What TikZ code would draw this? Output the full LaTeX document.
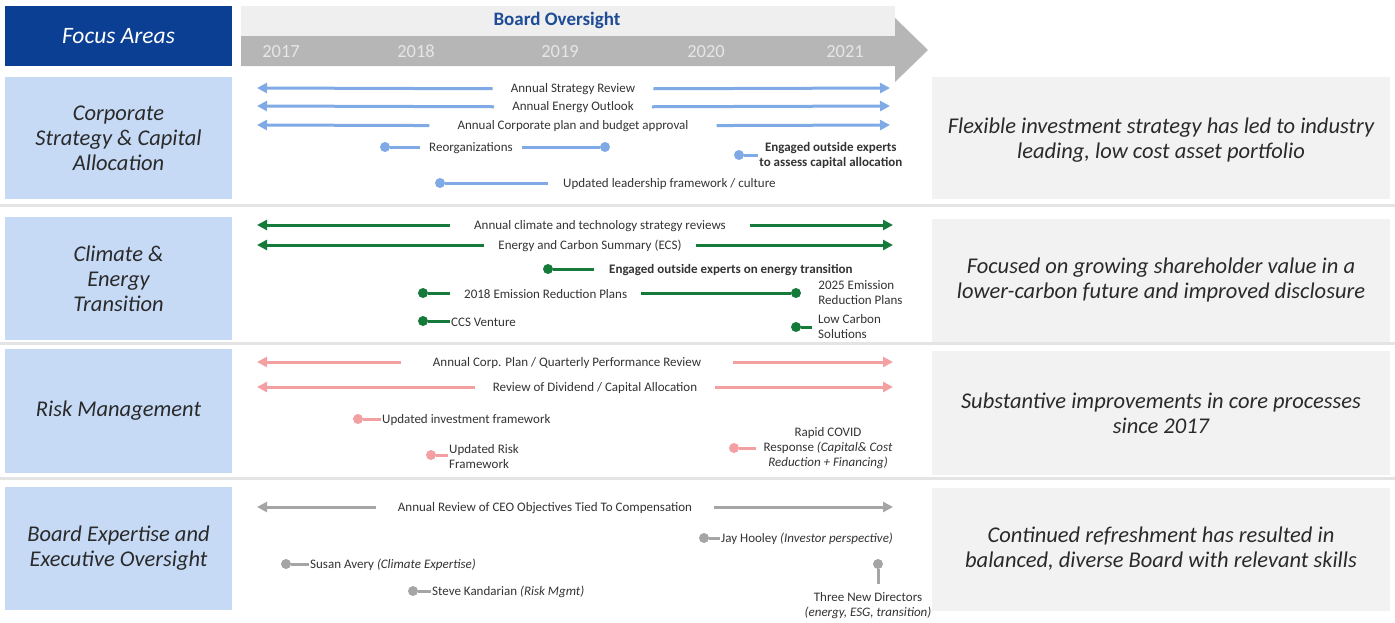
\documentclass[tikz,border=0pt]{standalone}
\usepackage{fontspec}
\setmainfont{Carlito}
\usetikzlibrary{arrows.meta,positioning}
\definecolor{headblue}{HTML}{0B3F93}
\definecolor{boardblue}{HTML}{1F4C97}
\definecolor{bandlight}{HTML}{EFEFEF}
\definecolor{bandgray}{HTML}{B6B6B6}
\definecolor{yeargray}{HTML}{E6E6E6}
\definecolor{areablue}{HTML}{C6DAF6}
\definecolor{resultgray}{HTML}{F2F2F2}
\definecolor{sepgray}{HTML}{E4E4E4}
\definecolor{textdark}{HTML}{2A2A2A}
\definecolor{itemgray}{HTML}{333333}
\definecolor{strategyblue}{HTML}{80AAE6}
\definecolor{climategreen}{HTML}{167A3A}
\definecolor{riskpink}{HTML}{F3A0A2}
\definecolor{boardgray}{HTML}{A5A5A5}
\tikzset{%
  >={Triangle[length=10pt,width=10pt]},
  % Specifications for style of nodes:
        bigtext/.style = {font=\fontsize{22.5}{25}\selectfont\itshape,
                          text=textdark, align=center},
        areabox/.style = {rectangle, bigtext, fill=areablue,
                          minimum width=227pt, minimum height=122pt},
      resultbox/.style = {rectangle, bigtext, fill=resultgray,
                          minimum width=458pt, minimum height=122pt},
      yearlabel/.style = {font=\fontsize{18.5}{20}\selectfont, text=yeargray},
       itemtext/.style = {font=\fontsize{13}{15}\selectfont, text=itemgray,
                          inner ysep=0pt, inner xsep=1pt},
       itembold/.style = {itemtext, font=\fontsize{13}{15}\selectfont\bfseries},
       spantext/.style = {itemtext, inner xsep=18pt},
          tldot/.style = {circle, inner sep=0pt, minimum size=10pt},
         tlline/.style = {line width=3pt},
  % one colour per focus area
       blueline/.style = {tlline, draw=strategyblue},
      bluearrow/.style = {blueline, ->, strategyblue},
        bluedot/.style = {tldot, fill=strategyblue},
      greenline/.style = {tlline, draw=climategreen},
     greenarrow/.style = {greenline, ->, climategreen},
       greendot/.style = {tldot, fill=climategreen},
       pinkline/.style = {tlline, draw=riskpink},
      pinkarrow/.style = {pinkline, ->, riskpink},
        pinkdot/.style = {tldot, fill=riskpink},
       grayline/.style = {tlline, draw=boardgray},
      grayarrow/.style = {grayline, ->, boardgray},
        graydot/.style = {tldot, fill=boardgray}
}
\begin{document}
\begin{tikzpicture}[x=1pt, y=-1pt]
  \useasboundingbox (0,0) rectangle (1395,622);
  \fill[white] (0,0) rectangle (1395,622);
  % header
  \node (focus) [rectangle, fill=headblue, minimum width=227pt, minimum height=60pt,
                 font=\fontsize{23.5}{26}\selectfont\itshape, text=white] at (118.5,36) {Focus Areas};
  \fill[bandlight] (241,6) rectangle (895,36);
  \fill[bandgray] (241,36) -- (895,36) -- (895,18) -- (928,50) -- (895,82) -- (895,66) -- (241,66) -- cycle;
  \node (board) [font=\fontsize{19}{21}\selectfont\bfseries, text=boardblue] at (557,20) {Board Oversight};
  \foreach \yr/\xpos in {2017/281, 2018/416, 2019/560, 2020/706, 2021/845}
    \node (y\yr) [yearlabel] at (\xpos,51.5) {\yr};
  % separators
  \foreach \sy in {205,343,478}
    \draw[sepgray, line width=3pt] (0,\sy) -- (1395,\sy);

  % Corporate Strategy & Capital Allocation
  \node (csca)    [areabox] at (118.5,138) {Corporate\\Strategy \& Capital\\Allocation};
  \node (cscares) [resultbox, text depth=0pt] at (1161,138) {Flexible investment strategy has led to industry\\leading, low cost asset portfolio};
  \node (asr) [spantext] at (573,89) {Annual Strategy Review};
  \coordinate (asrL) at (257,88);
  \coordinate (asrR) at (890,88);
  \draw[bluearrow] (asr) -- (asrL);
  \draw[bluearrow] (asr) -- (asrR);
  \node (aeo) [spantext] at (573,107) {Annual Energy Outlook};
  \coordinate (aeoL) at (257,106);
  \coordinate (aeoR) at (890,106);
  \draw[bluearrow] (aeo) -- (aeoL);
  \draw[bluearrow] (aeo) -- (aeoR);
  \node (acp) [spantext, inner xsep=28pt] at (573,126) {Annual Corporate plan and budget approval};
  \coordinate (acpL) at (257,125);
  \coordinate (acpR) at (890,125);
  \draw[bluearrow] (acp) -- (acpL);
  \draw[bluearrow] (acp) -- (acpR);
  \node (reoA) [bluedot] at (385,147) {};
  \node (reoB) [bluedot] at (605,147) {};
  \node (reo) [itemtext, anchor=west, inner xsep=9pt] at (420,148) {Reorganizations};
  \draw[blueline] (reoA) -- (reoA -| reo.west);
  \draw[blueline] (reoB -| reo.east) -- (reoB);
  \node (eoeA) [bluedot] at (739,155) {};
  \node (eoe) [itembold, align=center, right=14pt of eoeA] {Engaged outside experts\\to assess capital allocation};
  \draw[blueline] (eoeA) -- (eoe);
  \node (ulfA) [bluedot] at (440,183) {};
  \node (ulf) [itemtext, anchor=west, inner xsep=15pt] at (548,184) {Updated leadership framework / culture};
  \draw[blueline] (ulfA) -- (ulfA -| ulf.west);

  % Climate & Energy Transition
  \node (cet)    [areabox, minimum height=123pt] at (118.5,278.5) {Climate \&\\Energy\\Transition};
  \node (cetres) [resultbox, minimum height=123pt] at (1161,280) {Focused on growing shareholder value in a\\lower-carbon future and improved disclosure};
  \node (acts) [spantext, inner xsep=24pt] at (600,226) {Annual climate and technology strategy reviews};
  \coordinate (actsL) at (257,225);
  \coordinate (actsR) at (893,225);
  \draw[greenarrow] (acts.west |- actsL) -- (actsL);
  \draw[greenarrow] (acts.east |- actsR) -- (actsR);
  \node (ecs) [spantext, inner xsep=14pt] at (590,246) {Energy and Carbon Summary (ECS)};
  \coordinate (ecsL) at (257,245);
  \coordinate (ecsR) at (893,245);
  \draw[greenarrow] (ecs.west |- ecsL) -- (ecsL);
  \draw[greenarrow] (ecs.east |- ecsR) -- (ecsR);
  \node (eetA) [greendot] at (548,269) {};
  \node (eet) [itembold, anchor=west, inner xsep=15pt] at (594,270) {Engaged outside experts on energy transition};
  \draw[greenline] (eetA) -- (eetA -| eet.west);
  \node (erpA) [greendot] at (423,293) {};
  \node (erpB) [greendot] at (796,293) {};
  \node (erp) [itemtext, anchor=west, inner xsep=14pt] at (450,294) {2018 Emission Reduction Plans};
  \draw[greenline] (erpA) -- (erpA -| erp.west);
  \draw[greenline] (erpB -| erp.east) -- (erpB);
  \node (erpn) [itemtext, align=left, right=16pt of erpB, yshift=0pt] {2025 Emission\\Reduction Plans};
  \node (ccsA) [greendot] at (423,321) {};
  \node (ccs) [itemtext, anchor=west] at (450,322) {CCS Venture};
  \draw[greenline] (ccsA) -- (ccsA -| ccs.west);
  \node (lcsA) [greendot] at (796,327) {};
  \node (lcs) [itemtext, anchor=west, align=left, inner xsep=6pt] at (812,327) {Low Carbon\\Solutions};
  \draw[greenline] (lcsA) -- (lcsA -| lcs.west);

  % Risk Management
  \node (rm)    [areabox, minimum height=124pt] at (118.5,411) {Risk Management};
  \node (rmres) [resultbox, minimum height=124pt] at (1161,413) {Substantive improvements in core processes\\since 2017};
  \node (acpq) [spantext, inner xsep=32pt] at (567,363) {Annual Corp. Plan / Quarterly Performance Review};
  \coordinate (acpqL) at (257,362);
  \coordinate (acpqR) at (893,362);
  \draw[pinkarrow] (acpq.west |- acpqL) -- (acpqL);
  \draw[pinkarrow] (acpq.east |- acpqR) -- (acpqR);
  \node (rdca) [spantext] at (595,388) {Review of Dividend / Capital Allocation};
  \coordinate (rdcaL) at (257,387);
  \coordinate (rdcaR) at (893,387);
  \draw[pinkarrow] (rdca.west |- rdcaL) -- (rdcaL);
  \draw[pinkarrow] (rdca.east |- rdcaR) -- (rdcaR);
  \node (uifA) [pinkdot] at (358,419) {};
  \node (uif) [itemtext, anchor=west] at (381,420) {Updated investment framework};
  \draw[pinkline] (uifA) -- (uifA -| uif.west);
  \node (urfA) [pinkdot] at (431,455) {};
  \node (urf) [itemtext, anchor=west, align=left] at (448,456.5) {Updated Risk\\Framework};
  \draw[pinkline] (urfA) -- (urfA -| urf.west);
  \node (covA) [pinkdot] at (734,448) {};
  \node (cov) [itemtext, align=center, inner xsep=7pt] at (828,448) {Rapid COVID\\Response \textit{(Capital\& Cost}\\\textit{Reduction + Financing)}};
  \draw[pinkline] (covA) -- (covA -| cov.west);

  % Board Expertise and Executive Oversight
  \node (beo)    [areabox, minimum height=123pt] at (118.5,548) {Board Expertise and\\Executive Oversight};
  \node (beores) [resultbox, minimum height=123pt] at (1161,549) {Continued refreshment has resulted in\\balanced, diverse Board with relevant skills};
  \node (arco) [spantext, inner xsep=22pt] at (545,508) {Annual Review of CEO Objectives Tied To Compensation};
  \coordinate (arcoL) at (257,507);
  \coordinate (arcoR) at (893,507);
  \draw[grayarrow] (arco.west |- arcoL) -- (arcoL);
  \draw[grayarrow] (arco.east |- arcoR) -- (arcoR);
  \node (jayA) [graydot] at (704,538) {};
  \node (jay) [itemtext, anchor=west] at (720,539) {Jay Hooley \textit{(Investor perspective)}};
  \draw[grayline] (jayA) -- (jayA -| jay.west);
  \node (susA) [graydot] at (286,564) {};
  \node (sus) [itemtext, anchor=west] at (309,565) {Susan Avery \textit{(Climate Expertise)}};
  \draw[grayline] (susA) -- (susA -| sus.west);
  \node (steA) [graydot] at (413,591) {};
  \node (ste) [itemtext, anchor=west] at (431,592) {Steve Kandarian \textit{(Risk Mgmt)}};
  \draw[grayline] (steA) -- (steA -| ste.west);
  \node (thrA) [graydot] at (878,564) {};
  \node (thr) [itemtext, align=center, inner ysep=9pt] at (868,606) {Three New Directors\\\textit{(energy, ESG, transition)}};
  \draw[grayline] (thrA) -- (thrA |- thr.north);
\end{tikzpicture}
\end{document}
